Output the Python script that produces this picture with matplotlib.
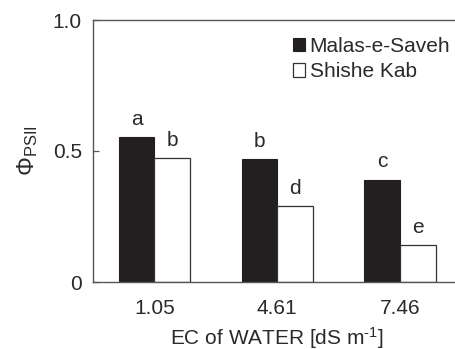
import matplotlib
matplotlib.use("Agg")
import matplotlib.pyplot as plt
import numpy as np

categories = ["1.05", "4.61", "7.46"]
malas = [0.553, 0.470, 0.390]
shishe = [0.473, 0.290, 0.140]
malas_letters = ["a", "b", "c"]
shishe_letters = ["b", "d", "e"]
series_names = ["Malas-e-Saveh", "Shishe Kab"]
yticks = [0, 0.5, 1.0]
ytick_labels = ["0", "0.5", "1.0"]

plt.rcParams['font.family'] = ['Liberation Sans', 'DejaVu Sans']
plt.rcParams['mathtext.fontset'] = 'custom'
plt.rcParams['mathtext.rm'] = 'Liberation Sans'
plt.rcParams['mathtext.it'] = 'Liberation Sans:italic'
plt.rcParams['mathtext.bf'] = 'Liberation Sans:bold'

txt = '#2a2a2a'
spine = '#555555'
fs = 15
fig = plt.figure(figsize=(4.56, 3.49), dpi=100)
ax = fig.add_axes([93/456, 1-282/349, (461.5-93)/456, (282-20)/349])

x = np.arange(len(categories))
w = 0.29
ax.bar(x - w/2, malas, w, color='#231f20', edgecolor='#231f20', linewidth=0.8, label=series_names[0])
ax.bar(x + w/2, shishe, w, color='white', edgecolor='#333333', linewidth=0.9, label=series_names[1])

for xi, v, l in zip(x - w/2, malas, malas_letters):
    ax.annotate(l, (xi, v), xytext=(0, 6), textcoords='offset points', ha='center', va='bottom', fontsize=fs, color=txt)
for xi, v, l in zip(x + w/2, shishe, shishe_letters):
    ax.annotate(l, (xi, v), xytext=(0, 6), textcoords='offset points', ha='center', va='bottom', fontsize=fs, color=txt)

ax.set_xlim(-0.5, 2.5)
ax.set_ylim(0, 1.0)
ax.set_yticks(yticks)
ax.set_yticklabels(ytick_labels)
ax.set_xticks(x)
ax.set_xticklabels(categories)
ax.tick_params(axis='y', direction='in', length=4, width=0.9, color=spine, labelsize=fs, labelcolor=txt, pad=8)
ax.tick_params(axis='x', length=0, labelsize=fs, labelcolor=txt, pad=12)
for s in ['left', 'bottom', 'top']:
    ax.spines[s].set_color(spine)
    ax.spines[s].set_linewidth(1.0)
ax.spines['right'].set_visible(False)

ax.set_xlabel("EC of WATER [dS m$^{\\text{-1}}$]", fontsize=fs, color=txt, labelpad=5)
ax.set_ylabel("$\\Phi_{\\mathrm{PSII}}$", fontsize=17, color=txt, labelpad=9)

leg = ax.legend(loc='upper left', bbox_to_anchor=(200/368.5, 0.935), frameon=False, fontsize=fs,
                handlelength=0.6, handleheight=0.6, handletextpad=0.2, labelspacing=0.3,
                borderpad=0, borderaxespad=0, labelcolor=txt)

fig.savefig("out.png", dpi=100)
